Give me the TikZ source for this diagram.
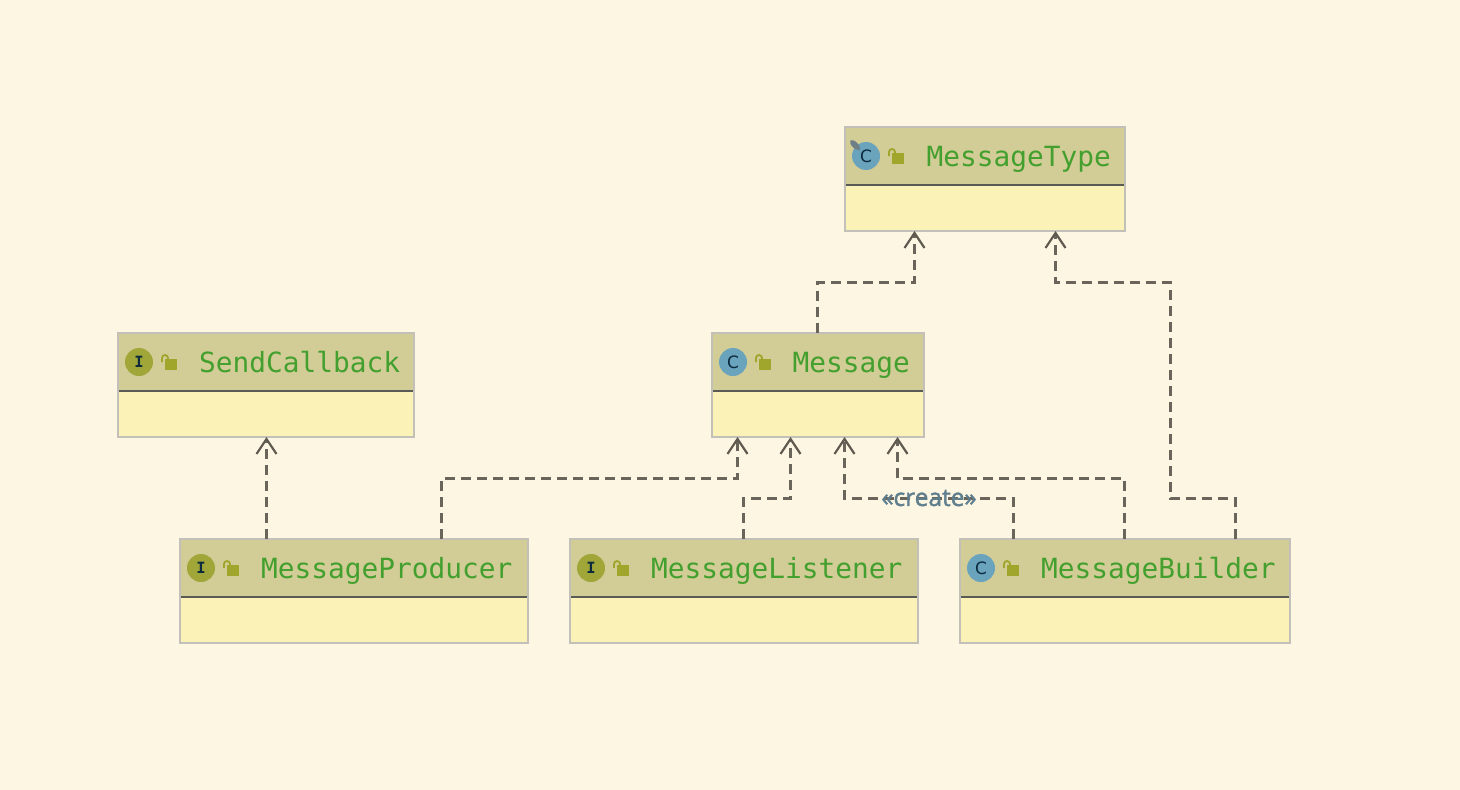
\documentclass[tikz,border=0pt]{standalone}
\usepackage{fontspec}
\setmainfont{DejaVu Sans}
\newfontfamily\titlefont{DejaVu Sans Mono}
\newfontfamily\lblfont[FakeBold=1.5]{Open Sans}
\usetikzlibrary{arrows.meta,calc}
\definecolor{bgc}{HTML}{FDF6E3}
\definecolor{headc}{HTML}{D2CC96}
\definecolor{bodyc}{HTML}{FBF2B8}
\definecolor{edgec}{HTML}{C2C0B8}
\definecolor{divc}{HTML}{5A5A56}
\definecolor{titlec}{HTML}{43A02E}
\definecolor{classc}{HTML}{6AA3BC}
\definecolor{ifacec}{HTML}{A0A638}
\definecolor{lockc}{HTML}{A0A52B}
\definecolor{linec}{HTML}{6A655A}
\definecolor{tipc}{HTML}{5F5A50}
\definecolor{labelc}{HTML}{5F7F8E}
\definecolor{glyphc}{HTML}{0B2A3E}
\definecolor{staticc}{HTML}{6E7F86}
\tikzset{
  x=1pt,y=-1pt,
  umlbox/.style={draw=edgec,line width=2pt,fill=bodyc,inner sep=0pt,outer sep=0pt,anchor=north west,rectangle},
  umltitle/.style={text=titlec,font=\titlefont\fontsize{27.8}{30}\selectfont,anchor=base west,inner sep=0pt},
  umlicon/.style={circle,inner sep=0pt,minimum size=28pt,text=glyphc,font=\fontsize{17}{17}\selectfont},
  dep/.style={draw=linec,line width=2.4pt,dash pattern=on 10pt off 6pt,-{Straight Barb[length=15pt,width=20pt,line width=2.2pt,color=tipc]}},
}
\newcommand{\umlclass}[8]{% name, x, y, w, iconcolor, letter, title, title offset
  \node[umlbox,minimum width=#4pt,minimum height=104pt] (#1) at (#2,#3) {};
  \fill[headc] ([shift={(1,1)}]#1.north west) rectangle ([shift={(-1,58)}]#1.north east);
  \draw[divc,line width=2pt] ([shift={(1,58)}]#1.north west) -- ([shift={(-1,58)}]#1.north east);
  \node[umlicon,fill=#5] (#1icon) at ([shift={(21,29)}]#1.north west) {#6};
  \fill[lockc] ([shift={(47,26)}]#1.north west) rectangle ([shift={(59,37)}]#1.north west);
  \draw[lockc,line width=1.8pt] ([shift={(44,29)}]#1.north west) -- ([shift={(44,25)}]#1.north west) arc[start angle=180,end angle=0,x radius=3pt,y radius=3pt] -- ([shift={(50,27)}]#1.north west);
  \node[umltitle] (#1title) at ([shift={(#8,39.5)}]#1.north west) {#7};
}
\begin{document}
\begin{tikzpicture}
\useasboundingbox[fill=bgc] (0,0) rectangle (1460,790);
\umlclass{mtype}{845}{127}{280}{classc}{C}{MessageType}{81.5}
\umlclass{send}{118}{333}{296}{ifacec}{{\titlefont\fontsize{15.5}{15.5}\selectfont\bfseries I}}{SendCallback}{81}
\umlclass{msg}{712}{333}{212}{classc}{C}{Message}{80.5}
\umlclass{prod}{180}{539}{348}{ifacec}{{\titlefont\fontsize{15.5}{15.5}\selectfont\bfseries I}}{MessageProducer}{81}
\umlclass{lis}{570}{539}{348}{ifacec}{{\titlefont\fontsize{15.5}{15.5}\selectfont\bfseries I}}{MessageListener}{81}
\umlclass{build}{960}{539}{330}{classc}{C}{MessageBuilder}{81}
% static marker of MessageType
\draw[staticc,line width=1.2pt] (mtypeicon.center) ++(-6,-6) -- ++(-6,-6);
\fill[staticc,rotate around={-45:(855,145)}] (855,145) ellipse[x radius=6.5pt,y radius=3pt];
% connectors
\draw[dep] ([xshift=-0.5pt]msg.north) -- ++(0,-50.5) -| ([xshift=-70.5pt]mtype.south);
\draw[dep] ([xshift=110.5pt]build.north) -- ++(0,-40.5) -- ++(-65,0) -- ++(0,-216) -| ([xshift=70.5pt]mtype.south);
\draw[dep] (send.south |- prod.north) ++(0.5,0) coordinate (sendfoot) -- ([xshift=0.5pt]send.south);
\draw[dep] ([xshift=87.5pt]prod.north) -- ++(0,-60.5) -| ([xshift=-80.5pt]msg.south);
\draw[dep] ([xshift=-0.5pt]lis.north) -- ++(0,-40.5) -| ([xshift=-27.5pt]msg.south);
\draw[dep] ([xshift=-111.5pt]build.north) -- ++(0,-40.5) -| ([xshift=26.5pt]msg.south);
\draw[dep] ([xshift=-0.5pt]build.north) -- ++(0,-60.5) -| ([xshift=79.5pt]msg.south);
\node[text=labelc,font=\lblfont\fontsize{24.5}{26}\selectfont,inner sep=0pt] (lbl) at (929,498) {«create»};
\end{tikzpicture}
\end{document}
